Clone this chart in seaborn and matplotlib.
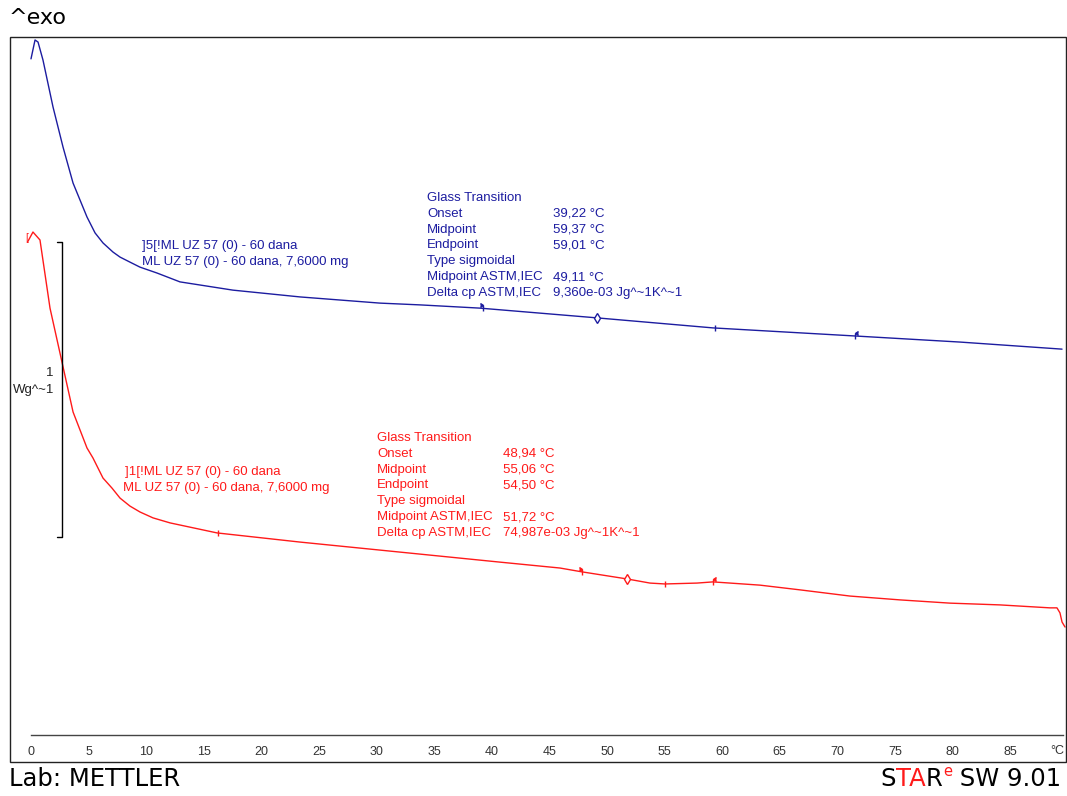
# DSC thermogram (METTLER STARe style) - two glass transition curves
import numpy as np
import matplotlib
matplotlib.use("Agg")
import matplotlib.pyplot as plt
from matplotlib.patches import Rectangle
from matplotlib.ticker import MultipleLocator
import seaborn as sns

# --- Data (temperature in degC, heat flow in W/g, arbitrary offset) ----------
blue_temp = [0.0, 0.35, 0.61, 1.04, 1.91, 2.78, 3.65, 4.86, 5.56, 6.25, 7.12,
             7.73, 8.59, 9.46, 10.94, 12.93, 17.53, 23.35, 30.30, 33.77,
             38.98, 49.13, 59.20, 71.35, 80.64, 89.50]
blue_flow = [2.292, 2.356, 2.349, 2.288, 2.129, 1.993, 1.871, 1.756, 1.702,
             1.668, 1.637, 1.620, 1.603, 1.586, 1.566, 1.536, 1.508, 1.485,
             1.464, 1.458, 1.447, 1.414, 1.380, 1.353, 1.332, 1.308]

red_temp = [-0.30, 0.17, 0.78, 1.65, 2.69, 3.65, 4.86, 5.38, 6.25, 7.03, 7.73,
            8.59, 9.46, 10.59, 12.07, 16.15, 23.35, 32.03, 40.71, 45.92,
            47.83, 51.74, 53.73, 55.03, 57.81, 59.20, 63.28, 66.75, 71.09,
            75.43, 79.77, 84.11, 88.45, 89.06, 89.32, 89.50, 89.76]
red_flow = [1.671, 1.705, 1.678, 1.447, 1.264, 1.095, 0.973, 0.939, 0.871,
            0.837, 0.803, 0.776, 0.756, 0.736, 0.719, 0.685, 0.654, 0.620,
            0.586, 0.566, 0.553, 0.529, 0.515, 0.512, 0.515, 0.519, 0.508,
            0.492, 0.471, 0.458, 0.447, 0.441, 0.431, 0.431, 0.414, 0.383,
            0.366]

# evaluation markers (temperatures) on each curve
blue_flag_right = [39.22]
blue_diamond = [49.11]
blue_tick = [59.37]
blue_flag_left = [71.5]
red_tick = [16.2, 55.06]
red_flag_right = [47.8]
red_diamond = [51.72]
red_flag_left = [59.2]

gt_labels = ["Glass Transition", "Onset", "Midpoint", "Endpoint",
             "Type sigmoidal", "Midpoint ASTM,IEC", "Delta cp ASTM,IEC"]
blue_values = ["", "39,22 °C", "59,37 °C", "59,01 °C", "", "49,11 °C",
               "9,360e-03 Jg^~1K^~1"]
red_values = ["", "48,94 °C", "55,06 °C", "54,50 °C", "", "51,72 °C",
              "74,987e-03 Jg^~1K^~1"]
blue_names = ["]5[!ML UZ 57 (0) - 60 dana", "ML UZ 57 (0) - 60 dana, 7,6000 mg"]
red_names = ["]1[!ML UZ 57 (0) - 60 dana", "ML UZ 57 (0) - 60 dana, 7,6000 mg"]
x_major = list(range(0, 90, 5))

BLUE = "#1c1ca0"
RED = "#ff1a1a"
SMALL = 9.5

# --- Setup -------------------------------------------------------------------
sns.set_style("white")
plt.rcParams["font.family"] = ["Liberation Sans", "DejaVu Sans"]

W, H = 1067, 796
fig = plt.figure(figsize=(W / 100, H / 100), dpi=100)


def fxy(px, py):
    """pixel position (top-left origin) -> figure fraction"""
    return px / W, 1 - py / H


# axes: left/right at the frame, bottom at the temperature scale line
ax = fig.add_axes([10 / W, (H - 735) / H, (1066 - 10) / W, (735 - 37) / H])
ax.set_xlim((10 - 31) / 11.52, (1066 - 31) / 11.52)
ax.set_ylim(0, (735 - 37) / 295)
ax.patch.set_alpha(0)

# outer frame
fig.patches.append(Rectangle(fxy(10, 762), (1066 - 10) / W, (762 - 37) / H,
                             transform=fig.transFigure, fill=False,
                             edgecolor="#222222", linewidth=1.0))

# --- Curves ------------------------------------------------------------------
sns.lineplot(x=blue_temp, y=blue_flow, color=BLUE, linewidth=1.0,
             estimator=None, sort=False, ax=ax)
sns.lineplot(x=red_temp, y=red_flow, color=RED, linewidth=1.0,
             estimator=None, sort=False, ax=ax)


def marks(temps, xs, ys, color, marker, size, dy=0.0, filled=True):
    yy = np.interp(temps, xs, ys) + dy
    ax.plot(temps, yy, linestyle="none", marker=marker, markersize=size,
            color=color, markerfacecolor=color if filled else "white",
            markeredgewidth=1.0)


for temps, col, xs, ys in [(blue_flag_right, BLUE, blue_temp, blue_flow),
                           (red_flag_right, RED, red_temp, red_flow)]:
    marks(temps, xs, ys, col, "|", 5)
    marks(temps, xs, ys, col, 5, 3, dy=0.01)
for temps, col, xs, ys in [(blue_flag_left, BLUE, blue_temp, blue_flow),
                           (red_flag_left, RED, red_temp, red_flow)]:
    marks(temps, xs, ys, col, "|", 5)
    marks(temps, xs, ys, col, 4, 3, dy=0.01)
marks(blue_diamond, blue_temp, blue_flow, BLUE, "d", 5, filled=False)
marks(red_diamond, red_temp, red_flow, RED, "d", 5, filled=False)
marks(blue_tick, blue_temp, blue_flow, BLUE, "|", 5)
marks(red_tick, red_temp, red_flow, RED, "|", 5)

# start bracket on the red curve
fig.text(*fxy(25, 238), "[", color=RED, fontsize=7, va="center")

# --- Scale bar (1 W/g) ---------------------------------------------------------
sx0, sx1 = (57 - 31) / 11.52, (62 - 31) / 11.52
y_top, y_bot = (735 - 242) / 295, (735 - 537) / 295
ax.plot([sx0, sx1, sx1, sx0], [y_top, y_top, y_bot, y_bot],
        color="black", linewidth=1.0)
fig.text(*fxy(53, 373), "1", ha="right", va="center", fontsize=SMALL,
         color="#222222")
fig.text(*fxy(54, 390), "Wg^~1", ha="right", va="center", fontsize=SMALL,
         color="#222222")

# --- Temperature axis ----------------------------------------------------------
for s in ["top", "left", "right"]:
    ax.spines[s].set_visible(False)
ax.spines["bottom"].set_bounds(0, 89.6)
ax.spines["bottom"].set_color("#444444")
ax.spines["bottom"].set_linewidth(1.0)
ax.set_xticks(x_major)
ax.set_xticklabels([str(v) for v in x_major])
ax.xaxis.set_minor_locator(MultipleLocator(1))
ax.tick_params(axis="x", which="major", direction="in", length=4.5,
               width=0.8, color="#444444", labelsize=9, labelcolor="#333333",
               pad=8)
ax.tick_params(axis="x", which="minor", direction="in", length=2.5,
               width=0.8, color="#444444")
ax.set_yticks([])
ax.set_xlabel("")
ax.set_ylabel("")
fig.text(*fxy(1057, 751), "°C", ha="center", va="center", fontsize=9,
         color="#333333")

# --- Annotations ---------------------------------------------------------------
def block(x0, xv, y0, labels, values, color):
    for i, (lab, val) in enumerate(zip(labels, values)):
        y = y0 + i * 15.8
        fig.text(*fxy(x0, y), lab, color=color, fontsize=SMALL, va="center")
        if val:
            fig.text(*fxy(xv, y), val, color=color, fontsize=SMALL,
                     va="center")


block(427, 553, 198, gt_labels, blue_values, BLUE)
block(377, 503, 438, gt_labels, red_values, RED)

fig.text(*fxy(142, 246), blue_names[0], color=BLUE, fontsize=SMALL,
         va="center")
fig.text(*fxy(142, 262), blue_names[1], color=BLUE, fontsize=SMALL,
         va="center")
fig.text(*fxy(125, 472), red_names[0], color=RED, fontsize=SMALL, va="center")
fig.text(*fxy(123, 488), red_names[1], color=RED, fontsize=SMALL, va="center")

# --- Header / footer -----------------------------------------------------------
head = dict(fontsize=16, family=["DejaVu Sans"])
big = dict(fontsize=17.5, family=["DejaVu Sans"])
fig.text(*fxy(9, 18), "^exo", va="center", color="black", **head)
fig.text(*fxy(9, 779), "Lab: METTLER", va="center", color="black", **big)

# "STARe SW 9.01" built right to left, mixed colours
sw = fig.text(*fxy(1061, 779), " SW 9.01", va="center", ha="right",
              color="black", **big)
sup = ax.annotate("e", xy=(0, 0.5), xycoords=sw, ha="right", va="bottom",
                  color=RED, annotation_clip=False, fontsize=10.5,
                  family=["DejaVu Sans"])
r_txt = ax.annotate("R", xy=(0, 0), xycoords=(sup, sw), ha="right",
                    va="bottom", color="black", annotation_clip=False, **big)
ta_txt = ax.annotate("TA", xy=(0, 0), xycoords=r_txt, ha="right",
                     va="bottom", color=RED, annotation_clip=False, **big)
ax.annotate("S", xy=(0, 0), xycoords=ta_txt, ha="right", va="bottom",
            color="black", annotation_clip=False, **big)

fig.savefig("out.png", dpi=100)
plt.close(fig)
